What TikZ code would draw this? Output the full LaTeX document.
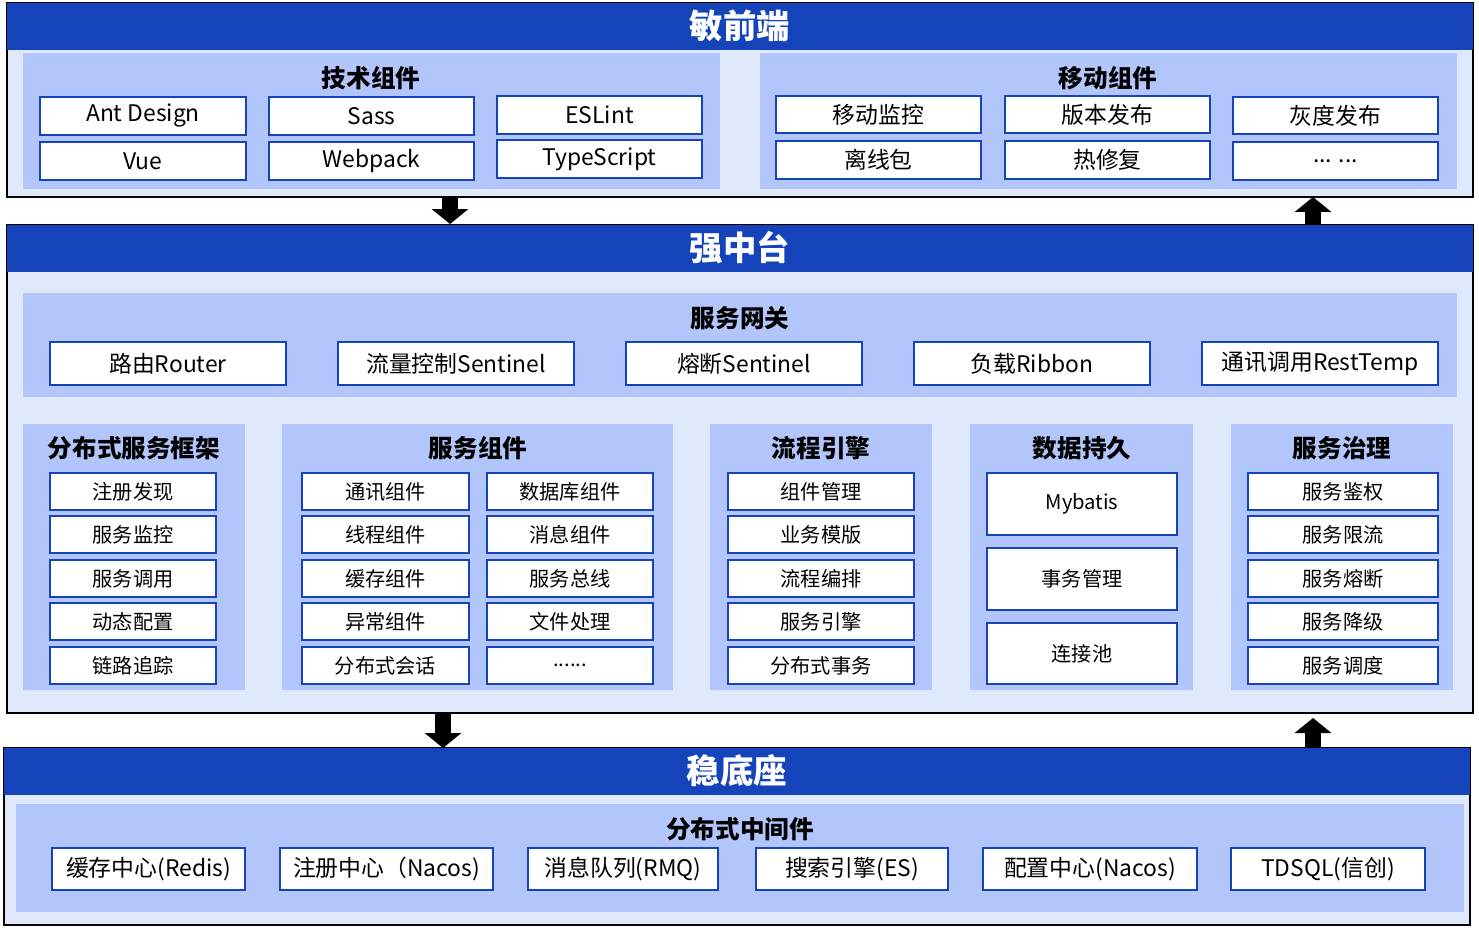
\documentclass[tikz,border=0pt]{standalone}
\usepackage{fontspec}
\setmainfont{Noto Sans CJK SC}
\usetikzlibrary{arrows.meta}
\definecolor{hdblue}{HTML}{1443BA}
\definecolor{paleblue}{HTML}{E0E8FC}
\definecolor{midblue}{HTML}{B2C6FC}
\tikzset{
  outer/.style={draw=black, line width=1.4pt, fill=paleblue},
  header/.style={fill=hdblue},
  panel/.style={fill=midblue},
  box/.style={draw=hdblue, line width=1.1pt, fill=white, inner sep=0pt, font=\fontsize{13}{14}\selectfont},
  sbox/.style={box, font=\fontsize{11.5}{13}\selectfont},
  ttl/.style={text=white, font=\fontsize{19}{20}\selectfont\bfseries},
  ptl/.style={font=\fontsize{14}{15}\selectfont\bfseries},
  flow/.style={line width=0.32cm, -{Triangle[width=0.72cm,length=0.3cm]}}
}
% box from (x1,y1) to (x2,y2) in pixel units
\newcommand\bx[7][box]{\node[#1, minimum width={(#5-#3)*0.02cm}, minimum height={(#6-#4)*0.02cm}] (#2) at ({(#3+#5)/2},{(#4+#6)/2}) {#7};}
\newcommand\sixdots{......}
\begin{document}
\begin{tikzpicture}[x=0.02cm, y=-0.02cm]
\useasboundingbox (0,0) rectangle (1479,932);
% 敏前端
\draw[outer] (7,3) rectangle (1473,197);
\fill[header] (7,3) rectangle (1473,50);
\node[ttl] (front) at (740,26) {敏前端};
\fill[panel] (23,53) rectangle (720,189);
\fill[panel] (760,53) rectangle (1457,189);
\node[ptl] (tech) at (371,78) {技术组件};
\node[ptl] (mobile) at (1108,78) {移动组件};
\bx{ant}{40}{97}{246}{135}{Ant Design}
\bx{sass}{269}{97}{474}{135}{Sass}
\bx{eslint}{497}{96}{702}{134}{ESLint}
\bx{vue}{40}{142}{246}{180}{Vue}
\bx{webpack}{269}{142}{474}{180}{Webpack}
\bx{ts}{497}{140}{702}{178}{TypeScript}
\bx{monitor}{776}{96}{981}{133}{移动监控}
\bx{release}{1005}{96}{1210}{133}{版本发布}
\bx{gray}{1233}{97}{1438}{134}{灰度发布}
\bx{offline}{776}{141}{981}{179}{离线包}
\bx{hotfix}{1005}{141}{1210}{179}{热修复}
\bx{more}{1233}{142}{1438}{180}{... ...}
% arrows
\coordinate (a1) at (450,197);
\coordinate (a2) at (450,224);
\coordinate (a3) at (1313,225);
\coordinate (a4) at (1313,197);
\draw[flow] (a1) -- (a2);
\draw[flow] (a3) -- (a4);
% 强中台
\draw[outer] (7,225) rectangle (1473,713);
\fill[header] (7,225) rectangle (1473,272);
\node[ttl] (middle) at (740,248) {强中台};
\fill[panel] (23,293) rectangle (1457,397);
\node[ptl] (gateway) at (740,318) {服务网关};
\bx{router}{50}{342}{286}{385}{路由Router}
\bx{flowctl}{338}{342}{574}{385}{流量控制Sentinel}
\bx{breaker}{626}{342}{862}{385}{熔断Sentinel}
\bx{ribbon}{914}{342}{1150}{385}{负载Ribbon}
\bx{rest}{1202}{342}{1438}{385}{通讯调用RestTemp}
\fill[panel] (23,424) rectangle (245,690);
\fill[panel] (282,424) rectangle (673,690);
\fill[panel] (710,424) rectangle (932,690);
\fill[panel] (970,424) rectangle (1193,690);
\fill[panel] (1231,424) rectangle (1453,690);
\node[ptl] (dist) at (134,448) {分布式服务框架};
\node[ptl] (svc) at (478,448) {服务组件};
\node[ptl] (proc) at (821,448) {流程引擎};
\node[ptl] (data) at (1082,448) {数据持久};
\node[ptl] (gov) at (1342,448) {服务治理};
\foreach \n/\ya/\yb/\ta/\tb/\tc/\td/\te in {
  1/473/510/注册发现/通讯组件/数据库组件/组件管理/服务鉴权,
  2/516/553/服务监控/线程组件/消息组件/业务模版/服务限流,
  3/560/597/服务调用/缓存组件/服务总线/流程编排/服务熔断,
  4/603/640/动态配置/异常组件/文件处理/服务引擎/服务降级,
  5/647/684/链路追踪/分布式会话/\sixdots/分布式事务/服务调度}{
  \bx[sbox]{d\n}{50}{\ya}{216}{\yb}{\ta}
  \bx[sbox]{s\n}{302}{\ya}{469}{\yb}{\tb}
  \bx[sbox]{t\n}{487}{\ya}{653}{\yb}{\tc}
  \bx[sbox]{p\n}{728}{\ya}{914}{\yb}{\td}
  \bx[sbox]{g\n}{1248}{\ya}{1438}{\yb}{\te}
}
\bx[sbox]{mybatis}{987}{473}{1177}{535}{Mybatis}
\bx[sbox]{txn}{987}{548}{1177}{610}{事务管理}
\bx[sbox]{pool}{987}{623}{1177}{684}{连接池}
% arrows
\coordinate (b1) at (443,713);
\coordinate (b2) at (443,748);
\coordinate (b3) at (1313,748);
\coordinate (b4) at (1313,718);
\draw[flow] (b1) -- (b2);
\draw[flow] (b3) -- (b4);
% 稳底座
\draw[outer] (4,748) rectangle (1470,925);
\fill[header] (4,748) rectangle (1470,795);
\node[ttl] (base) at (737,771) {稳底座};
\fill[panel] (16,804) rectangle (1464,912);
\node[ptl] (mw) at (740,829) {分布式中间件};
\bx{redis}{52}{848}{245}{890}{缓存中心(Redis)}
\bx{nacos}{280}{848}{493}{890}{注册中心（Nacos)}
\bx{rmq}{528}{848}{718}{890}{消息队列(RMQ)}
\bx{es}{756}{848}{948}{890}{搜索引擎(ES)}
\bx{conf}{983}{848}{1197}{890}{配置中心(Nacos)}
\bx{tdsql}{1231}{848}{1425}{890}{TDSQL(信创)}
\end{tikzpicture}
\end{document}
